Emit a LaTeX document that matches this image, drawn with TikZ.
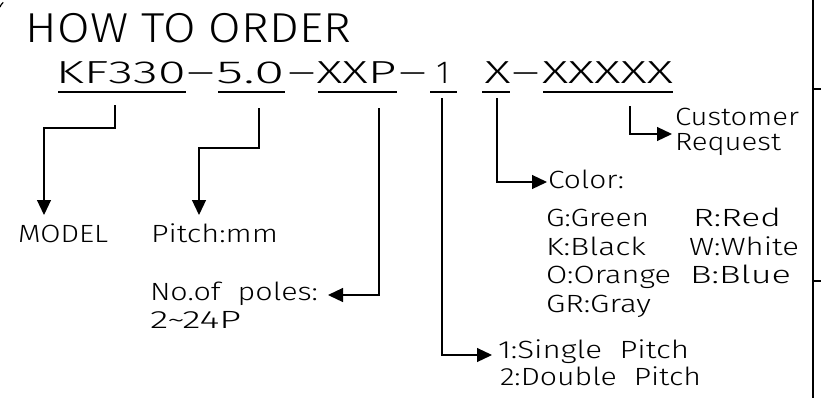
\documentclass[tikz,border=0pt]{standalone}
\usepackage{fontspec}
\usepackage{graphicx}
\setmainfont{Fira Sans Light}
\usetikzlibrary{arrows.meta}
\newcommand\fw[2]{\resizebox{#1bp}{\height}{#2}}
\tikzset{
  lbl/.style={inner sep=0pt, outer sep=0pt, anchor=base west, font=\fontsize{25}{30}\selectfont},
  code/.style={inner sep=0pt, outer sep=0pt, anchor=base, font=\fontsize{32}{38}\selectfont},
  ttl/.style={inner sep=0pt, outer sep=0pt, anchor=base west, font=\fontsize{42}{50}\selectfont},
  ln/.style={line width=1.2bp},
  conn/.style={line width=1.2bp, -{Triangle[length=15bp,width=14bp]}}
}
\begin{document}
\begin{tikzpicture}[x=1bp,y=-1bp]
\useasboundingbox (0,0) rectangle (821,398);
% frame fragments
\draw[ln] (0,7) arc[start angle=200, end angle=230, radius=11];
\draw[ln] (813,0) -- (813,398);
\draw[ln] (813,89) -- (821,89);
\draw[ln] (813,281) -- (821,281);
% title
\node[ttl] (title) at (26,42) {\fw{325}{HOW TO ORDER}};
% part number
\node[code] (m1) at (121,83) {\fw{130}{KF330}};
\node[code] (d1) at (200.5,83) {\fw{28}{–}};
\node[code] (m2) at (250.5,83) {\fw{68}{5.0}};
\node[code] (d2) at (301.5,83) {\fw{28}{–}};
\node[code] (m3) at (356.5,83) {\fw{80}{XXP}};
\node[code] (d3) at (412.5,83) {\fw{28}{–}};
\node[code] (m4) at (443,83) {1};
\node[code] (m5) at (497.5,83) {\fw{26}{X}};
\node[code] (d4) at (525.5,83) {\fw{28}{–}};
\node[code] (m6) at (607.5,83) {\fw{131}{XXXXX}};
\draw[ln] (58,92) -- (186,92);
\draw[ln] (218,92) -- (285,92);
\draw[ln] (318,92) -- (397,92);
\draw[ln] (430,92) -- (457,92);
\draw[ln] (482,92) -- (510,92);
\draw[ln] (543,92) -- (673,92);
% labels
\node[lbl] (model) at (18,242) {\fw{90}{MODEL}};
\node[lbl] (pitch) at (151,242) {\fw{127}{Pitch:mm}};
\node[lbl] (poles1) at (150,300) {\fw{168}{No.of\ \ poles:}};
\node[lbl] (poles2) at (150,328) {\fw{91}{2\textasciitilde24P}};
\node[lbl] (color) at (548,188) {\fw{76}{Color:}};
\node[lbl] (cust1) at (675,125) {\fw{124}{Customer}};
\node[lbl] (cust2) at (675,150) {\fw{106}{Request}};
\node[lbl] (cg) at (546,226) {\fw{103}{G:Green}};
\node[lbl] (ck) at (546,255) {\fw{100}{K:Black}};
\node[lbl] (co) at (546,283) {\fw{125}{O:Orange}};
\node[lbl] (cgr) at (546,312) {\fw{105}{GR:Gray}};
\node[lbl] (cr) at (693,226) {\fw{88}{R:Red}};
\node[lbl] (cw) at (689,255) {\fw{110}{W:White}};
\node[lbl] (cb) at (690,283) {\fw{101}{B:Blue}};
\node[lbl] (sp1) at (498,358) {\fw{191}{1:Single\ \ Pitch}};
\node[lbl] (sp2) at (500,385) {\fw{201}{2:Double\ \ Pitch}};
% connector ends
\coordinate (s1) at (115,105); \coordinate (e1) at (44,215);
\coordinate (s2) at (259,108); \coordinate (e2) at (199,215);
\coordinate (s3) at (379,108); \coordinate (e3) at (328,295);
\coordinate (s4) at (442,98);  \coordinate (e4) at (492,355);
\coordinate (s5) at (497,98);  \coordinate (e5) at (547,182);
\coordinate (s6) at (630,106); \coordinate (e6) at (672,134);
\draw[conn] (s1) -- (115,128) -| (e1);
\draw[conn] (s2) -- (259,148) -| (e2);
\draw[conn] (s3) |- (e3);
\draw[conn] (s4) |- (e4);
\draw[conn] (s5) |- (e5);
\draw[conn] (s6) |- (e6);
\end{tikzpicture}
\end{document}
